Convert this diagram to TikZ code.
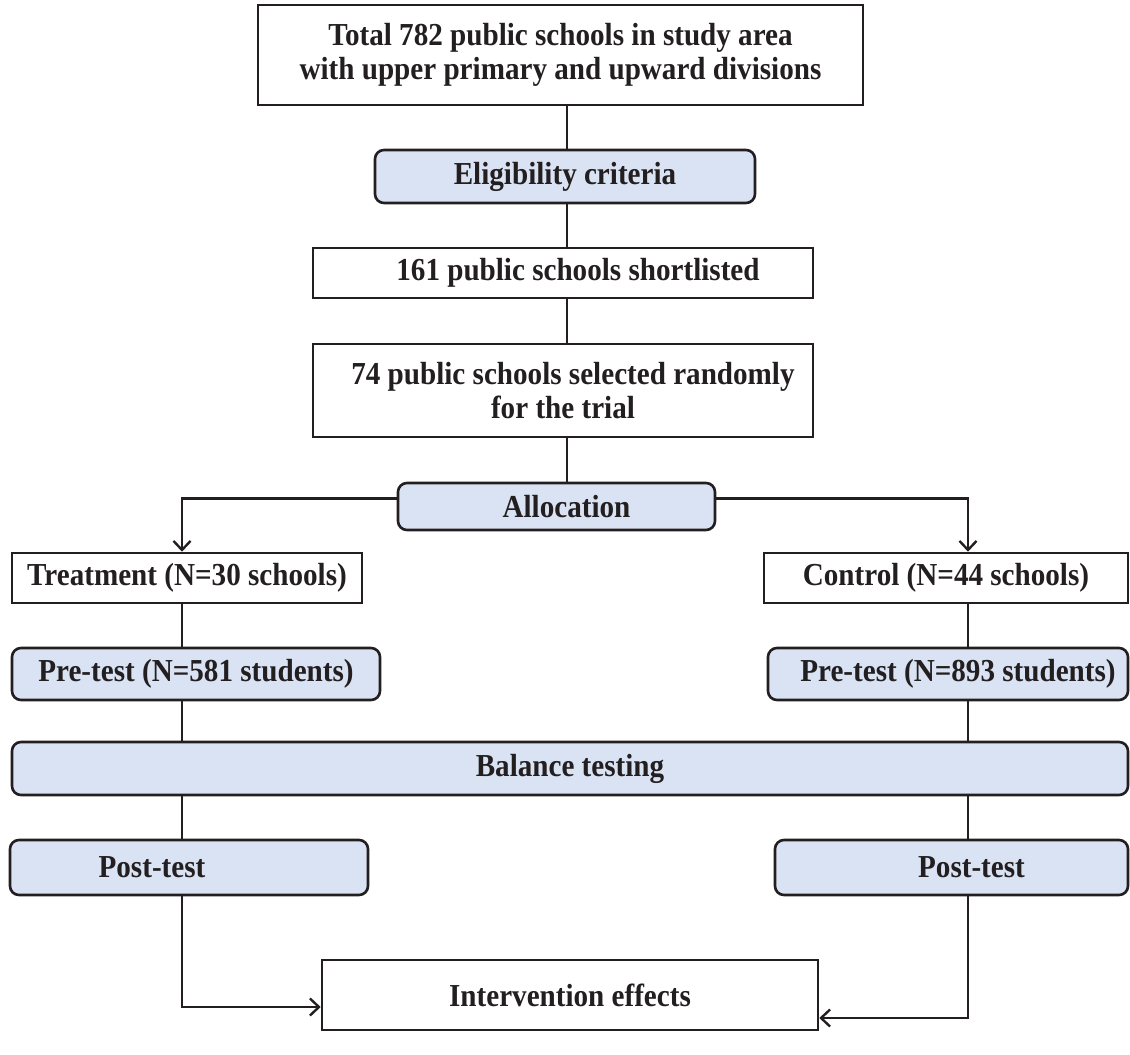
\documentclass[tikz,border=0pt]{standalone}
\usepackage{fontspec}
\setmainfont{Liberation Serif}[FakeStretch=0.91]
\usetikzlibrary{arrows.meta,calc}
\definecolor{lblue}{HTML}{DAE3F3}
\definecolor{ink}{HTML}{231F20}
\tikzset{
  box/.style={draw=ink, line width=2.6pt, fill=white, inner sep=0pt, align=center,
    font=\bfseries\fontsize{32}{34}\selectfont, text=ink},
  rbox/.style={box, fill=lblue, rounded corners=9pt},
  conn/.style={draw=ink, line width=2.4pt},
  arr/.style={conn, -{Straight Barb[length=9pt,width=17pt,line width=2.4pt]}},
}
\begin{document}
\begin{tikzpicture}[x=1pt,y=-1pt]
\useasboundingbox[fill=white] (0,0) rectangle (1130,1055);
\coordinate (sp) at (567,0);
\coordinate (lx) at (182,0);
\coordinate (rx) at (968,0);
\node[box, minimum width=605pt, minimum height=100pt] (top) at (560.5,55)
  {Total 782 public schools in study area\\with upper primary and upward divisions};
\node[rbox, minimum width=380pt, minimum height=53pt] (elig) at (565,176.5) {Eligibility criteria};
\node[box, minimum width=500pt, minimum height=50pt] (short) at (563,273) {\hspace*{30pt}161 public schools shortlisted};
\node[box, minimum width=500pt, minimum height=93pt] (sel) at (563,390.5)
  {\hspace*{20pt}74 public schools selected randomly\\for the trial};
\node[rbox, minimum width=317pt, minimum height=47pt] (alloc) at (556.5,506.5) {\hspace*{20pt}Allocation};
\node[box, minimum width=350pt, minimum height=50pt] (treat) at (187,578) {Treatment (N=30 schools)};
\node[box, minimum width=364pt, minimum height=50pt] (ctrl) at (946,578) {Control (N=44 schools)};
\node[rbox, minimum width=368pt, minimum height=52pt] (pre1) at (196,674) {Pre-test (N=581 students)};
\node[rbox, minimum width=360pt, minimum height=52pt] (pre2) at (948,674) {\hspace*{20pt}Pre-test (N=893 students)};
\node[rbox, minimum width=1116pt, minimum height=53pt] (bal) at (570,768.5) {Balance testing};
\node[rbox, minimum width=358pt, minimum height=55pt] (post1) at (189,867.5) {Post-test\hspace*{74pt}};
\node[rbox, minimum width=353pt, minimum height=55pt] (post2) at (951.5,867.5) {\hspace*{40pt}Post-test};
\node[box, minimum width=496pt, minimum height=70pt] (interv) at (570,995) {Intervention effects};
\draw[conn] (top.south -| sp) -- (elig.north -| sp);
\draw[conn] (elig.south -| sp) -- (short.north -| sp);
\draw[conn] (short.south -| sp) -- (sel.north -| sp);
\draw[conn] (sel.south -| sp) -- (alloc.north -| sp);
\draw[arr] ([yshift=8pt]alloc.west) -| (treat.north -| lx);
\draw[arr] ([yshift=8pt]alloc.east) -| (ctrl.north -| rx);
\draw[conn] (treat.south -| lx) -- (pre1.north -| lx);
\draw[conn] (pre1.south -| lx) -- (bal.north -| lx);
\draw[conn] (bal.south -| lx) -- (post1.north -| lx);
\draw[conn] (ctrl.south -| rx) -- (pre2.north -| rx);
\draw[conn] (pre2.south -| rx) -- (bal.north -| rx);
\draw[conn] (bal.south -| rx) -- (post2.north -| rx);
\draw[arr] (post1.south -| lx) |- ([yshift=-12pt]interv.west);
\draw[arr] (post2.south -| rx) |- ([yshift=-23pt]interv.east);
\end{tikzpicture}
\end{document}
